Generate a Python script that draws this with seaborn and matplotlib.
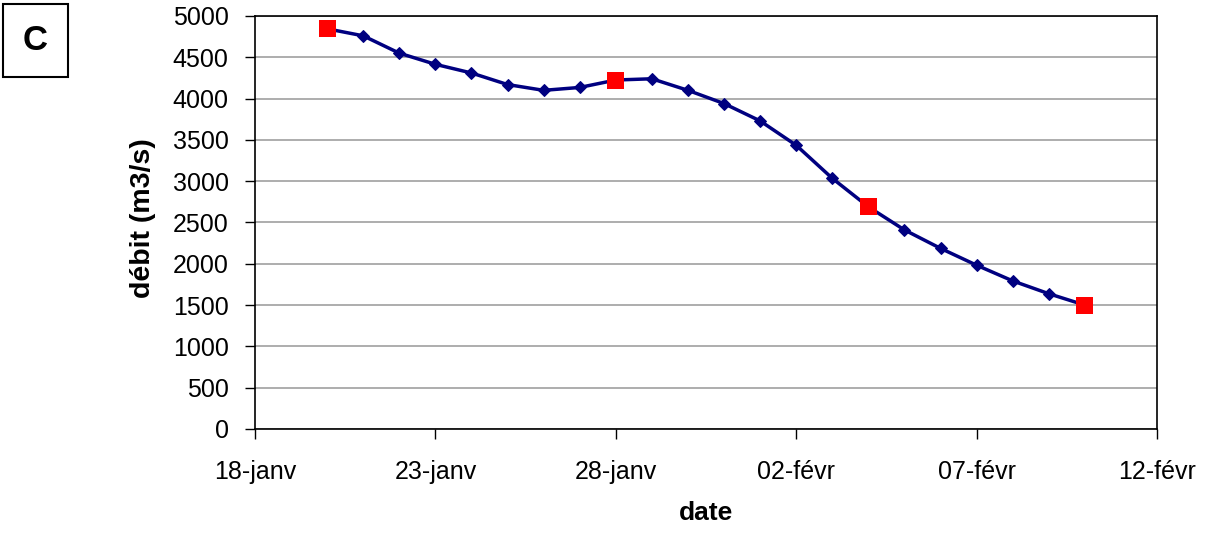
import pandas as pd
import numpy as np
import matplotlib
matplotlib.use("Agg")
import matplotlib.pyplot as plt
import seaborn as sns
from matplotlib.patches import Rectangle

# daily discharge values
dates = pd.date_range("2000-01-20", "2000-02-10", freq="D")
debit = [4845, 4760, 4550, 4415, 4310, 4170, 4100, 4135, 4225, 4240, 4100,
         3940, 3730, 3435, 3035, 2690, 2410, 2187, 1983, 1793, 1638, 1500]

# highlighted sampling dates (red squares)
red_dates = pd.to_datetime(["2000-01-20", "2000-01-28", "2000-02-04", "2000-02-10"])
red_debit = [4845, 4225, 2690, 1500]

# x tick positions and their French labels
tick_dates = pd.to_datetime(["2000-01-18", "2000-01-23", "2000-01-28",
                             "2000-02-02", "2000-02-07", "2000-02-12"])
tick_labels = ["18-janv", "23-janv", "28-janv", "02-févr", "07-févr", "12-févr"]
y_ticks = np.arange(0, 5001, 500)

df = pd.DataFrame({"date": dates, "debit": debit})
df_red = pd.DataFrame({"date": red_dates, "debit": red_debit})

sns.set_style("white")
plt.rcParams["font.family"] = ["Liberation Sans", "DejaVu Sans"]
plt.rcParams["text.color"] = "black"
plt.rcParams["axes.labelcolor"] = "black"
plt.rcParams["xtick.color"] = "black"
plt.rcParams["ytick.color"] = "black"

fig = plt.figure(figsize=(12.07, 5.34), dpi=100)
ax = fig.add_axes([255 / 1207, 1 - 429 / 534, 902 / 1207, 413 / 534])

sns.lineplot(data=df, x="date", y="debit", ax=ax, color="#000080",
             linewidth=2.5, marker="D", markersize=6.5,
             markeredgecolor="#000080", zorder=3)
sns.scatterplot(data=df_red, x="date", y="debit", ax=ax, color="#ff0000",
                marker="s", s=150, edgecolor="none", zorder=4)

ax.set_xlim(tick_dates[0], tick_dates[-1])
ax.set_ylim(0, 5000)
ax.set_xticks(tick_dates)
ax.set_xticklabels(tick_labels)
ax.set_yticks(y_ticks)
ax.set_yticklabels([str(v) for v in y_ticks])

ax.grid(axis="y", color="#a0a0a0", linewidth=1.2)
ax.set_axisbelow(True)
for s in ax.spines.values():
    s.set_visible(True)
    s.set_color("black")
    s.set_linewidth(1.2)

ax.tick_params(axis="y", direction="out", length=7, width=1, pad=12,
               labelsize=18, left=True)
ax.tick_params(axis="x", direction="out", length=7, width=1, pad=15,
               labelsize=18, bottom=True)

ax.set_xlabel("date", fontsize=19, fontweight="bold")
ax.set_ylabel("débit (m3/s)", fontsize=20.5, fontweight="bold")
ax.xaxis.set_label_coords(0.5, -0.175)
ax.yaxis.set_label_coords(-0.11, 0.51)

# panel label box
fig.add_artist(Rectangle((3 / 1207, 1 - 77 / 534), 65 / 1207, 73 / 534,
                         transform=fig.transFigure, fill=False,
                         edgecolor="black", linewidth=1.5))
fig.text(35.5 / 1207, 1 - 40.5 / 534, "C", fontsize=25, fontweight="bold",
         ha="center", va="center")

fig.savefig("out.png", dpi=100)
